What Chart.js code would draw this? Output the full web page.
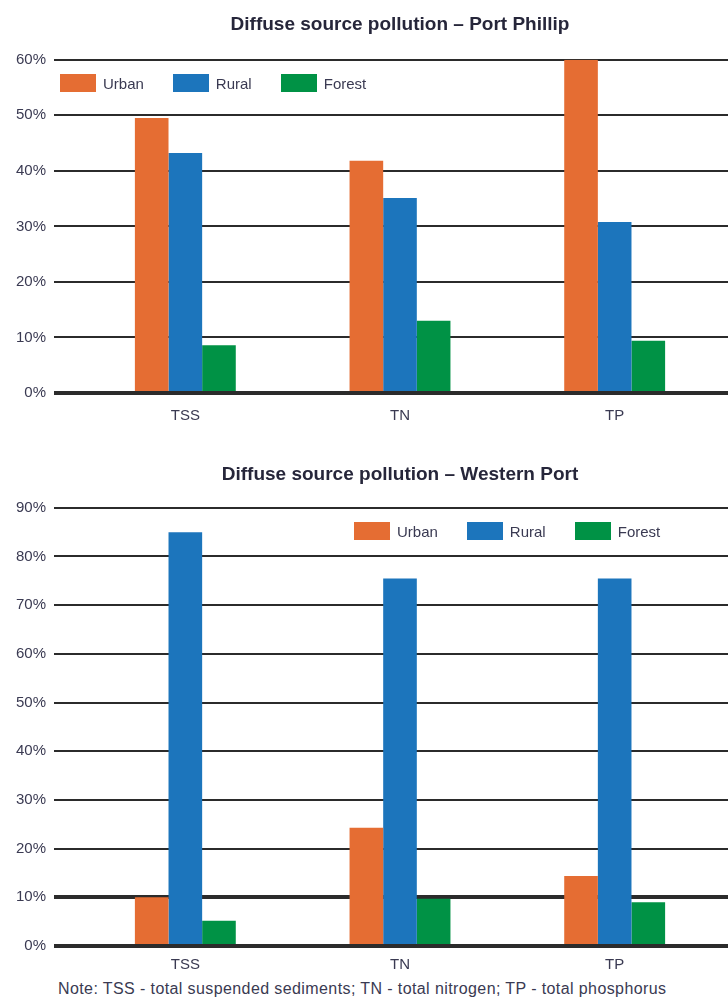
<!DOCTYPE html>
<html>
<head>
<meta charset="utf-8">
<script src="https://cdn.jsdelivr.net/npm/chart.js@4.4.1/dist/chart.umd.min.js"></script>
<style>
  body { margin: 0; width: 728px; height: 1001px; background: #fff; position: relative; overflow: hidden;
         font-family: "Liberation Sans", Arial, sans-serif; }
  .wrap { position: absolute; left: 0; width: 728px; }
  #wrap1 { top: 0; height: 440px; }
  #wrap2 { top: 450px; height: 530px; }
  .legend { position: absolute; display: flex; align-items: center; font-size: 15px; color: #3a3a52; }
  .legend span.sw { display: inline-block; width: 36px; height: 18px; margin-right: 7px; }
  .legend .item { display: flex; align-items: center; margin-right: 29px; }
  #legend1 { left: 60px; top: 74px; }
  #legend2 { left: 354px; top: 522px; }
  .note { position: absolute; left: 58px; top: 980px; font-size: 16px; letter-spacing: 0.4px; color: #3a3a52; white-space: nowrap; }
</style>
</head>
<body>
<div class="wrap" id="wrap1"><canvas id="chart1" width="728" height="440"></canvas></div>
<div class="wrap" id="wrap2"><canvas id="chart2" width="728" height="530"></canvas></div>
<div class="legend" id="legend1"></div>
<div class="legend" id="legend2"></div>
<div class="note">Note: TSS - total suspended sediments; TN - total nitrogen; TP - total phosphorus</div>

<script>
// data
const categories = ["TSS", "TN", "TP"];
const seriesNames = ["Urban", "Rural", "Forest"];
const seriesColors = ["#E56D33", "#1C75BC", "#009245"];

// Port Phillip (%)
const ppUrban = [49.5, 41.8, 60];
const ppRural = [43.2, 35.1, 30.8];
const ppForest = [8.6, 13, 9.4];

// Western Port (%)
const wpUrban = [10, 24.3, 14.4];
const wpRural = [85, 75.5, 75.5];
const wpForest = [5.2, 9.7, 9];

const textColor = "#3a3a52";
const gridColor = "#2b2b2b";
const fontFamily = '"Liberation Sans", Arial, sans-serif';

function buildLegend(id) {
  const el = document.getElementById(id);
  el.innerHTML = seriesNames
    .map((name, i) => `<div class="item"><span class="sw" style="background:${seriesColors[i]}"></span>${name}</div>`)
    .join("");
}

function makeChart(canvasId, titleText, series, yMax, thickLines, titleBottom, xPad, xHeight) {
  const ctx = document.getElementById(canvasId).getContext("2d");
  const lineW = (c) => (thickLines.includes(c.tick.value) ? 4 : 2);
  return new Chart(ctx, {
    type: "bar",
    data: {
      labels: categories,
      datasets: series.map((vals, i) => ({
        label: seriesNames[i],
        data: vals,
        backgroundColor: seriesColors[i],
        borderWidth: 0,
        categoryPercentage: 0.47,
        barPercentage: 1,
      })),
    },
    options: {
      responsive: false,
      devicePixelRatio: 1,
      animation: false,
      layout: { padding: 0 },
      plugins: {
        legend: { display: false },
        tooltip: { enabled: false },
        title: {
          display: true,
          text: titleText,
          fullSize: false,
          color: "#26263a",
          font: { family: fontFamily, size: 19, weight: "bold" },
          padding: { top: 13, bottom: titleBottom },
        },
      },
      scales: {
        x: {
          grid: { display: false, drawTicks: false },
          border: { display: false },
          ticks: { color: textColor, padding: xPad, font: { family: fontFamily, size: 15 } },
          afterFit: (scale) => { scale.height = xHeight; },
        },
        y: {
          min: 0,
          max: yMax,
          border: { display: false },
          ticks: {
            stepSize: 10,
            padding: 8,
            color: textColor,
            font: { family: fontFamily, size: 15 },
            callback: (v) => v + "%",
          },
          grid: { color: gridColor, tickLength: 24, lineWidth: lineW },
          afterFit: (scale) => { scale.width = 78; },
        },
        // right stub so the gridlines run to the page edge
        yRight: {
          position: "right",
          min: 0,
          max: yMax,
          border: { display: false },
          ticks: { stepSize: 10, display: false },
          grid: { color: gridColor, tickLength: 6, lineWidth: lineW, drawOnChartArea: false },
          afterFit: (scale) => { scale.width = 6; },
        },
      },
    },
  });
}

buildLegend("legend1");
buildLegend("legend2");

makeChart("chart1", "Diffuse source pollution \u2013 Port Phillip", [ppUrban, ppRural, ppForest], 60, [0], 24, 14, 47);
makeChart("chart2", "Diffuse source pollution \u2013 Western Port", [wpUrban, wpRural, wpForest], 90, [0, 10], 22, 10, 34);
</script>
</body>
</html>
